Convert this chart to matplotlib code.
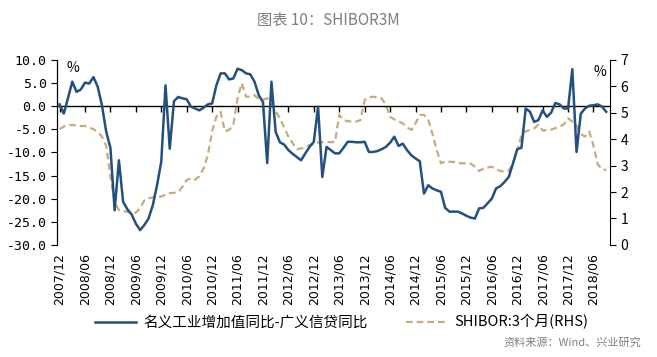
import numpy as np
import pandas as pd
import matplotlib
matplotlib.use('Agg')
import matplotlib.pyplot as plt

plt.rcParams['font.family'] = ['Noto Sans CJK SC', 'DejaVu Sans']

# 名义工业增加值同比-广义信贷同比 (%), 2007/12 - 2018/09, 月度
spread = [
    0.4, -1.6, 1.8, 5.3, 3.1, 3.6, 5.1, 4.9, 6.3, 4.2, 0.2, -5.5,
    -9.0, -22.5, -11.7, -20.7, -22.3, -23.4, -25.4, -26.8, -25.7, -24.3, -21.4, -17.1,
    -12.0, 4.5, -9.2, 1.1, 2.0, 1.7, 1.5, -0.1, -0.5, -0.9, -0.3, 0.4,
    0.6, 4.5, 7.1, 7.1, 5.8, 6.0, 8.1, 7.8, 7.1, 6.9, 5.3, 2.4,
    0.9, -12.3, 5.3, -5.6, -7.8, -8.3, -9.5, -10.3, -11.0, -11.7, -10.2, -8.8,
    -7.7, -0.1, -15.3, -8.8, -9.5, -10.2, -10.2, -9.0, -7.7, -7.7, -7.8, -7.8,
    -7.7, -9.9, -9.9, -9.7, -9.3, -8.8, -7.9, -6.6, -8.6, -8.1, -9.5, -10.6,
    -11.3, -11.9, -18.9, -17.1, -17.8, -18.2, -18.5, -22.0, -22.8, -22.8, -22.8, -23.2,
    -23.7, -24.1, -24.3, -22.1, -22.0, -21.0, -20.0, -17.8, -17.3, -16.4, -15.3, -12.4,
    -9.3, -9.0, -0.5, -1.2, -3.4, -3.0, -0.9, -2.3, -1.4, 0.7, 0.4, -0.5,
    -0.5, 8.0, -9.9, -1.6, -0.5, 0.1, 0.2, 0.4, -0.1, -1.2,
]

# SHIBOR:3个月 (%, RHS)
shibor = [
    4.38, 4.48, 4.53, 4.54, 4.52, 4.50, 4.50, 4.44, 4.38, 4.28, 4.10, 3.75,
    2.60, 1.60, 1.32, 1.28, 1.25, 1.21, 1.22, 1.39, 1.68, 1.77, 1.80, 1.82,
    1.83, 1.90, 1.96, 1.97, 2.00, 2.20, 2.46, 2.52, 2.47, 2.60, 2.90, 3.40,
    4.30, 4.85, 5.04, 4.30, 4.35, 4.54, 5.55, 6.12, 5.61, 5.61, 5.67, 5.52,
    5.50, 5.55, 5.32, 5.05, 4.79, 4.45, 4.10, 3.85, 3.62, 3.65, 3.70, 3.78,
    3.82, 3.88, 3.89, 3.89, 3.89, 3.90, 4.92, 4.73, 4.68, 4.67, 4.67, 4.72,
    5.49, 5.58, 5.61, 5.58, 5.55, 5.30, 4.85, 4.75, 4.68, 4.60, 4.45, 4.35,
    4.60, 4.92, 4.92, 4.75, 4.20, 3.59, 3.09, 3.15, 3.15, 3.14, 3.10, 3.09,
    3.09, 3.08, 2.96, 2.80, 2.88, 2.93, 2.96, 2.86, 2.80, 2.77, 2.80, 3.10,
    3.59, 4.15, 4.30, 4.35, 4.41, 4.55, 4.33, 4.34, 4.36, 4.42, 4.48, 4.56,
    4.79, 4.67, 4.52, 4.20, 4.10, 4.29, 3.75, 3.05, 2.86, 2.84,
]

months = pd.date_range('2007-12-01', periods=len(spread), freq='MS')
idx = np.arange(len(months))
tick_pos = idx[::6][:22]
tick_labels = [d.strftime('%Y/%m') for d in months[tick_pos]]

blue = '#24507e'
tan = '#c9aa7c'

fig = plt.figure(figsize=(6.57, 3.57), dpi=100)
ax = fig.add_axes([0.0868, 0.314, 0.8417, 0.518])
ax2 = ax.twinx()

ax2.plot(idx, shibor, color=tan, lw=1.6, ls=(0, (3, 1.8)), label='SHIBOR:3个月(RHS)')
ax.plot(idx, spread, color=blue, lw=1.8, label='名义工业增加值同比-广义信贷同比')
ax.set_zorder(ax2.get_zorder() + 1)
ax.patch.set_visible(False)

ax.set_xlim(-0.6, 129.9)
ax.set_ylim(-30, 10)
ax.set_yticks(np.arange(-30, 11, 5))
ax.set_yticklabels(['%.1f' % v for v in np.arange(-30, 11, 5)],
                   family='DejaVu Sans Mono', fontsize=9.5)
ax2.set_ylim(0, 7)
ax2.set_yticks(range(0, 8))
ax2.tick_params(axis='y', labelsize=10, length=4, direction='out')

ax.set_xticks(tick_pos)
ax.set_xticklabels(tick_labels, rotation=90, fontsize=9, family='DejaVu Sans')
ax.tick_params(axis='x', length=0, pad=6)
ax.tick_params(axis='y', length=4, direction='out')

for a in (ax, ax2):
    a.spines['top'].set_visible(False)
    a.spines['bottom'].set_visible(False)
ax.spines['right'].set_visible(False)

# 零轴 with half-year ticks pointing down
sec = ax.secondary_xaxis(0.75)
sec.set_xticks(tick_pos)
sec.set_xticklabels([])
sec.tick_params(direction='in', length=4, width=1)
sec.spines['top'].set_linewidth(1.0)

ax.text(0.029, 0.955, '%', transform=ax.transAxes, ha='center', va='center', fontsize=10)
ax.text(0.982, 0.935, '%', transform=ax.transAxes, ha='center', va='center', fontsize=10)

fig.text(0.5, 0.944, '图表 10：SHIBOR3M', ha='center', va='center', fontsize=11, color='#7f7f7f')

h1, l1 = ax.get_legend_handles_labels()
h2, l2 = ax2.get_legend_handles_labels()
fig.legend(h1 + h2, l1 + l2, loc='center', bbox_to_anchor=(0.52, 0.098), ncol=2,
           frameon=False, fontsize=10.5, handlelength=2.8, handletextpad=0.5,
           columnspacing=2.6)

fig.text(0.976, 0.04, '资料来源：Wind、兴业研究', ha='right', va='center',
         fontsize=8, color='#808080')

fig.savefig('out.png', dpi=100)
